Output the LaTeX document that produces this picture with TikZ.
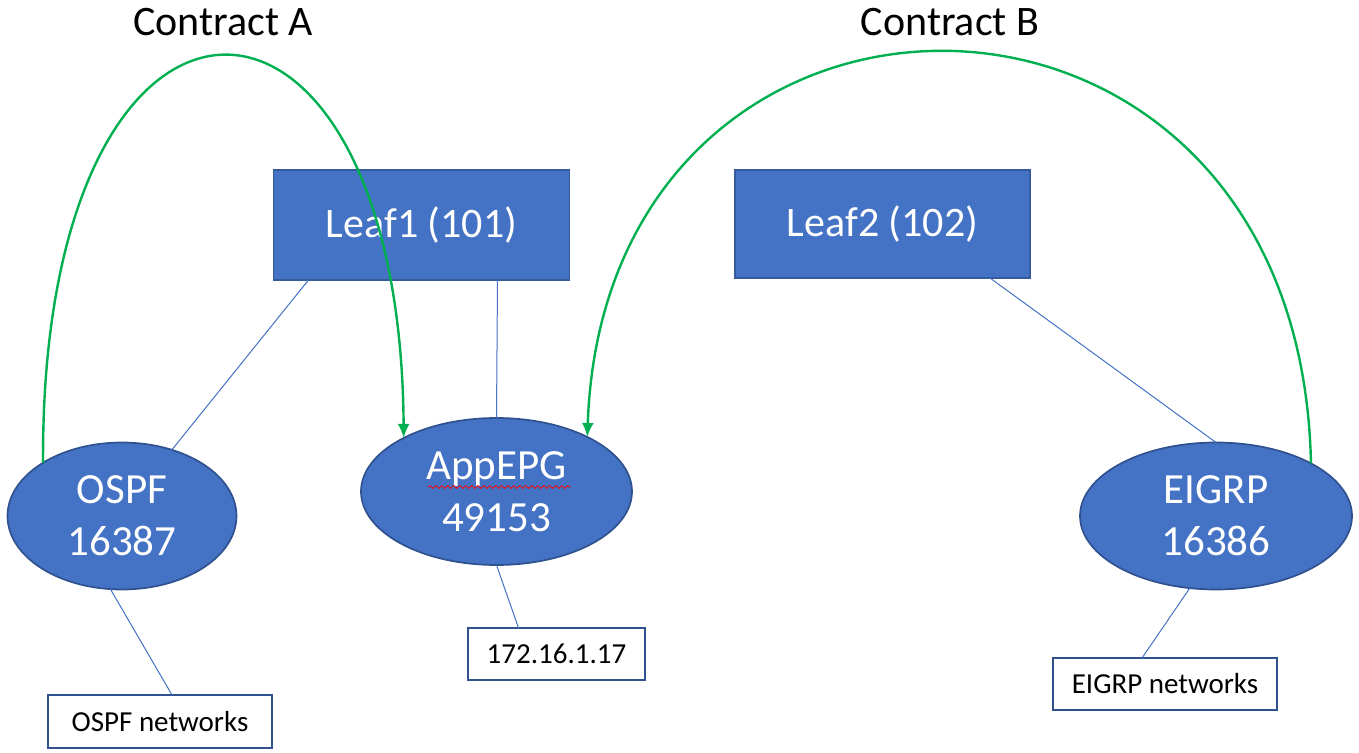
\documentclass[tikz,border=0pt]{standalone}
\usepackage{fontspec}
\setmainfont{Carlito}
\usetikzlibrary{arrows.meta,calc,decorations.pathmorphing,shapes.geometric}
\definecolor{boxblue}{HTML}{4472C4}
\definecolor{edgeblue}{HTML}{2F528F}
\definecolor{cgreen}{HTML}{00B050}
\tikzset{
  leafbox/.style={draw=boxblue!80!black,line width=0.6pt,fill=boxblue,text=white,minimum width=148pt,minimum height=55pt,inner sep=0pt,outer sep=0pt,font=\fontsize{21}{26}\selectfont},
  epg/.style={ellipse,draw=edgeblue,line width=0.85pt,fill=boxblue,text=white,inner sep=0pt,outer sep=0pt,align=center,font=\fontsize{21.5}{26}\selectfont},
  netbox/.style={draw=edgeblue,line width=0.9pt,fill=white,text=black,inner sep=0pt,outer sep=0pt,font=\fontsize{14.5}{17}\selectfont},
  link/.style={draw=boxblue,line width=0.5pt},
  contract/.style={draw=cgreen,line width=1.2pt,-{Latex[length=7pt,width=6pt]}},
  title/.style={font=\fontsize{21}{26}\selectfont,inner sep=0pt}
}
\begin{document}
\begin{tikzpicture}[x=0.5pt,y=-0.5pt]
\useasboundingbox (0,0) rectangle (1359,753);
% titles
\node[title] (ca) at (223,22) {Contract A};
\node[title] (cb) at (950,22) {Contract B};
% leaves
\node[leafbox] (leafone) at (421.5,225) {Leaf1 (101)};
\node[leafbox,minimum width=147.5pt,minimum height=54pt] (leaftwo) at (882.5,224) {Leaf2 (102)};
% EPGs
\node[epg,minimum width=114.5pt,minimum height=73.5pt] (ospf) at (122,516) {OSPF\\16387};
\node[epg,minimum width=135.5pt,minimum height=73.5pt] (app) at (496.5,491.5) {AppEPG\\49153};
\node[epg,minimum width=136pt,minimum height=73.5pt] (eigrp) at (1216,516) {EIGRP\\16386};
% network boxes
\node[netbox,minimum width=88.5pt,minimum height=26pt] (ipbox) at (556.5,654) {172.16.1.17};
\node[netbox,minimum width=112pt,minimum height=26.5pt] (ospfnet) at (160,721.5) {OSPF networks};
\node[netbox,minimum width=112pt,minimum height=26pt] (eigrpnet) at (1165,684) {EIGRP networks};
% spell-check squiggle
\draw[red,line width=0.4pt,decorate,decoration={snake,amplitude=0.7pt,segment length=3pt}] (428,487) -- (571,487);
% blue links
\draw[link] ($(leafone.south west)+(35,0)$) -- (ospf.53);
\draw[link] ($(leafone.south west)+(224,0)$) -- (app.north);
\draw[link] ($(leaftwo.south west)+(255,0)$) -- (eigrp.north);
\draw[link] (ospf.261) -- ($(ospfnet.north)+(12,0)$);
\draw[link] (app.south) -- ($(ipbox.north)+(-38,0)$);
\draw[link] (eigrp.250) -- ($(eigrpnet.north)+(-23,0)$);
% contracts
\draw[contract] (ospf.146) .. controls (40,-75) and (400,-75) .. (app.150);
\draw[contract] (eigrp.29) .. controls (1300,-80) and (605,-80) .. (app.31);
\end{tikzpicture}
\end{document}
